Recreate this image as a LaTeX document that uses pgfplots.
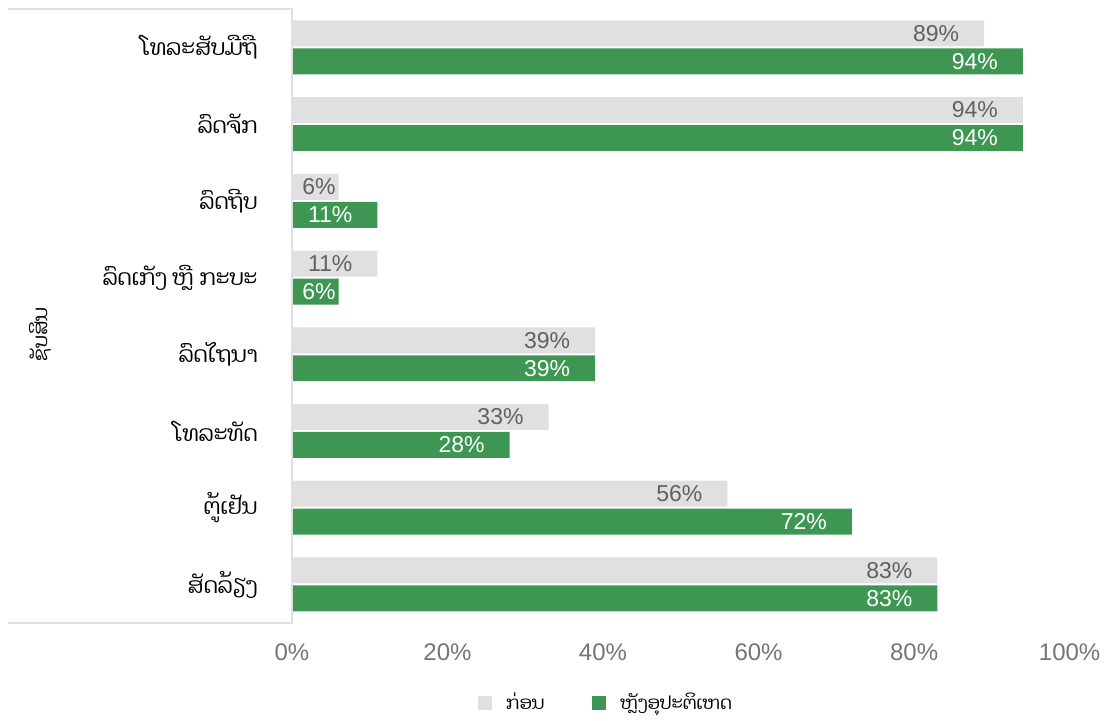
\documentclass[border=0pt]{standalone}
\usepackage{pgfplots}
\pgfplotsset{compat=1.18}
\usepackage{fontspec}
\setmainfont{Liberation Sans}
\newfontfamily\laofont[Script=Lao]{Dhyana}

\definecolor{before}{HTML}{E0E0E0}
\definecolor{after}{HTML}{3D9651}
\definecolor{labelgray}{HTML}{616161}
\definecolor{tickgray}{HTML}{757575}
\definecolor{framegray}{HTML}{E0E0E0}

\begin{document}
\begin{tikzpicture}
\begin{axis}[
    name=ax,
    scale only axis,
    width=389pt,
    height=307pt,
    xmin=0, xmax=100,
    ymin=-0.5, ymax=7.5,
    y dir=reverse,
    xbar,
    bar width=13pt,
    axis line style={draw=none},
    major tick length=0pt,
    /pgf/number format/assume math mode=true,
    xtick={0,20,40,60,80,100},
    xticklabels={0\%,20\%,40\%,60\%,80\%,100\%},
    xticklabel style={font=\fontsize{12}{14}\selectfont, text=tickgray, yshift=-7pt},
    ytick={0,...,7},
    yticklabels={ໂທລະສັບມືຖື, ລົດຈັກ, ລົດຖີບ, ລົດເກັງ ຫຼື ກະບະ, ລົດໄຖນາ, ໂທລະທັດ, ຕູ້ເຢັນ, ສັດລ້ຽງ},
    yticklabel style={font=\laofont\fontsize{11}{13}\selectfont, text=black, anchor=east, inner sep=0pt, xshift=-17pt},
    ylabel={\laofont ຊັບສິນ},
    ylabel style={at={(axis description cs:0,0.47)}, yshift=126pt, anchor=center, font=\fontsize{10}{12}\selectfont},
    visualization depends on={x \as \rawx},
    nodes near coords={\pgfmathprintnumber{\pgfplotspointmeta}\%},
    nodes near coords style={anchor=east, xshift={ifthenelse(\rawx<10,2,-9)},
        font=\fontsize{11.5}{13}\selectfont},
    legend style={at={(axis description cs:0.405,-0.13)}, anchor=center, draw=none,
        legend columns=2, font=\laofont\fontsize{9}{12}\selectfont,
        /tikz/every even column/.append style={column sep=22pt}},
    legend image code/.code={\fill[#1,draw=none] (0pt,-3.5pt) rectangle (7pt,3.5pt);},
]
\addplot[fill=before, draw=none, bar shift=7pt, nodes near coords style={text=labelgray}] coordinates {
    (89,0) (94,1) (6,2) (11,3) (39,4) (33,5) (56,6) (83,7)
};
\addplot[fill=after, draw=none, bar shift=-7pt, nodes near coords style={text=white}] coordinates {
    (94,0) (94,1) (11,2) (6,3) (39,4) (28,5) (72,6) (83,7)
};
\legend{\hspace{5pt}ກ່ອນ, \hspace{5pt}ຫຼັງອຸປະຕິເຫດ}
\end{axis}
\draw[framegray, line width=1pt] ([xshift=-142pt]ax.north west) -- (ax.north west) -- (ax.south west) -- ([xshift=-142pt]ax.south west);
\path ([xshift=-146pt,yshift=4.5pt]ax.north west) rectangle ++(553.5pt,-360.5pt);
\end{tikzpicture}
\end{document}
